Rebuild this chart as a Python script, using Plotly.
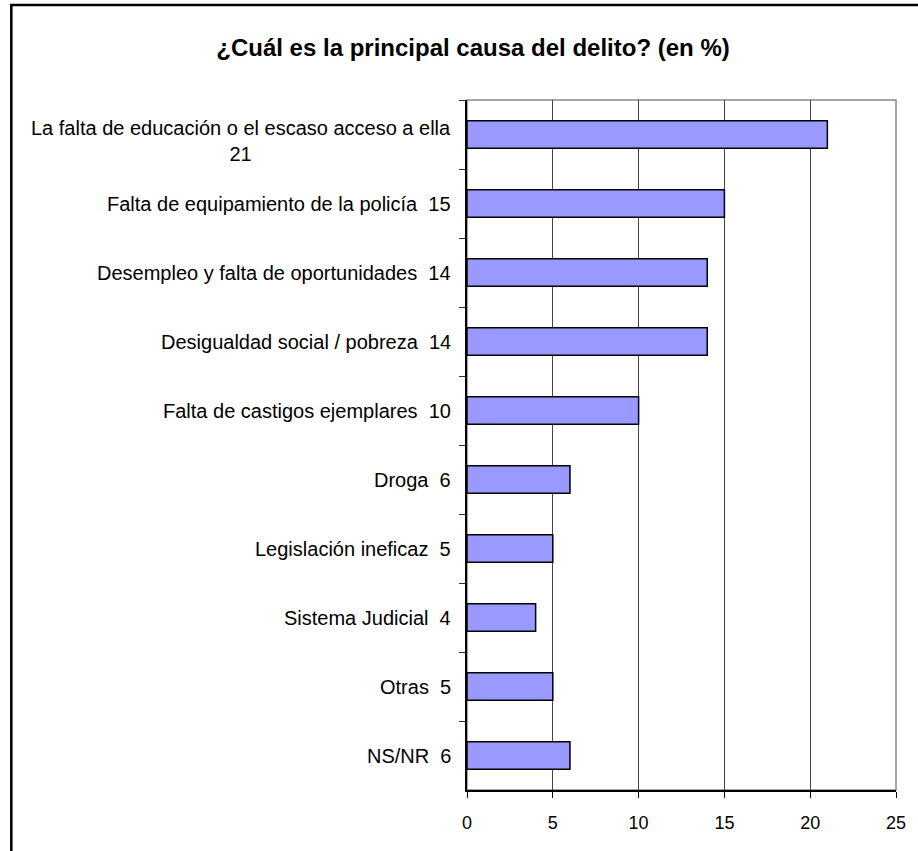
import plotly.graph_objects as go

# Data (top to bottom)
categories = [
    "La falta de educación o el escaso acceso a ella",
    "Falta de equipamiento de la policía",
    "Desempleo y falta de oportunidades",
    "Desigualdad social / pobreza",
    "Falta de castigos ejemplares",
    "Droga",
    "Legislación ineficaz",
    "Sistema Judicial",
    "Otras",
    "NS/NR",
]
values = [21, 15, 14, 14, 10, 6, 5, 4, 5, 6]
x_ticks = [0, 5, 10, 15, 20, 25]

title_text = "<b>¿Cuál es la principal causa del delito? (en %)</b>"

bar_color = "#9999FF"
font_family = "Liberation Sans, Arial, sans-serif"

# plot area in pixels
PL, PR, PT, PB = 467, 901, 100, 790
W, H = 918, 851

fig = go.Figure()

fig.add_trace(go.Bar(
    x=values,
    y=categories,
    orientation="h",
    width=0.4,
    marker=dict(color=bar_color, line=dict(color="black", width=1.5)),
    hoverinfo="skip",
))

# Category labels with value, drawn as annotations so wrapped text is centred
for cat, val in zip(categories, values):
    wrapped = len(cat) > 40
    label = f"{cat}<br>{val}" if wrapped else f"{cat}  {val}"
    fig.add_annotation(
        x=0, y=cat,
        xref="paper", yref="y",
        text=label,
        showarrow=False,
        xanchor="right", yanchor="middle",
        align="center",
        xshift=-14,
        yshift=-6 if wrapped else 0,
        font=dict(family=font_family, size=20, color="black"),
    )

pw, ph = PR - PL, PB - PT

# Outer frame around the whole chart (right/bottom edges fall off the page)
fig.add_shape(
    type="rect",
    xref="paper", yref="paper",
    x0=(6 - PL) / pw, x1=(940 - PL) / pw,
    y0=(PB - 880) / ph, y1=(PB - 5) / ph,
    line=dict(color="black", width=2.5),
    fillcolor="rgba(0,0,0,0)",
    layer="below",
)

# Gray top/right border of plot area
fig.add_shape(
    type="rect",
    xref="paper", yref="paper",
    x0=0, x1=1, y0=0, y1=1,
    line=dict(color="#888888", width=1.5),
    layer="below",
)

fig.update_layout(
    width=W,
    height=H,
    margin=dict(l=PL, r=W - PR, t=PT, b=H - PB),
    paper_bgcolor="white",
    plot_bgcolor="white",
    showlegend=False,
    bargap=0.6,
    title=dict(
        text=title_text,
        x=473 / W, xanchor="center",
        y=1 - 48 / H, yanchor="middle",
        font=dict(family=font_family, size=24, color="black"),
    ),
    font=dict(family=font_family, size=18, color="black"),
)

fig.update_xaxes(
    range=[0, 25],
    tickvals=x_ticks,
    ticks="outside",
    ticklen=6,
    tickcolor="black",
    ticklabelstandoff=10,
    showline=True,
    linecolor="black",
    linewidth=1.5,
    showgrid=True,
    gridcolor="#444444",
    gridwidth=1,
    zeroline=False,
    tickfont=dict(family=font_family, size=18, color="black"),
)

fig.update_yaxes(
    autorange="reversed",
    showticklabels=False,
    ticks="outside",
    ticklen=6,
    tickcolor="#333333",
    tickson="boundaries",
    showline=True,
    linecolor="black",
    linewidth=1.5,
    showgrid=False,
    zeroline=False,
)

fig.write_html(
    "out.html",
    config={"displayModeBar": False},
    post_script="document.body.style.margin='0';",
)
